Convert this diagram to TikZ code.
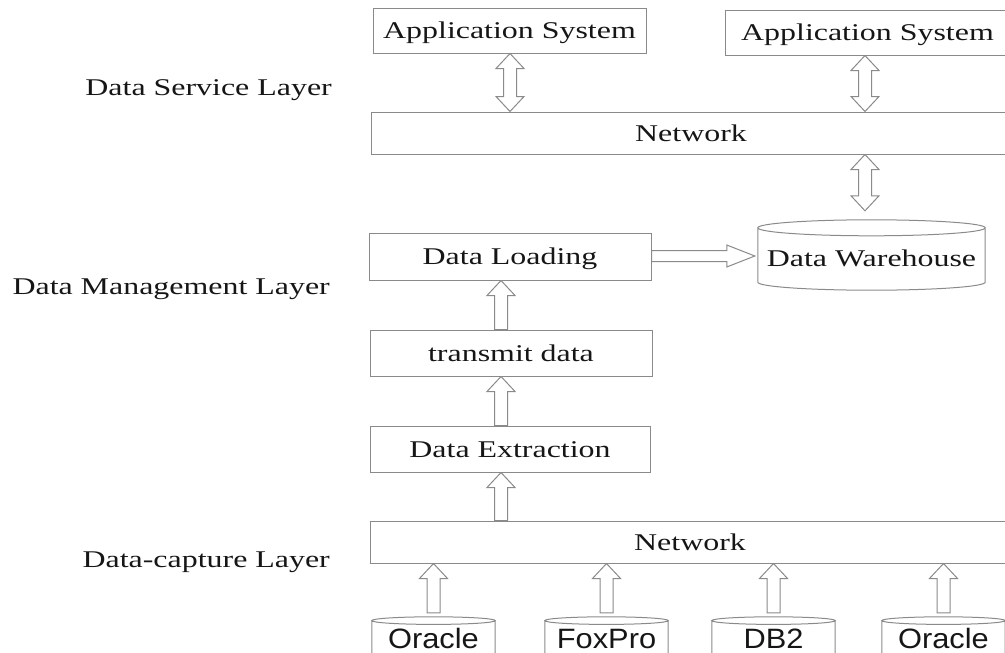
\documentclass[tikz,border=0pt]{standalone}
\usepackage{fontspec}
\setmainfont{Liberation Serif}[FakeStretch=1.33]
\newfontfamily\cylfont{Liberation Sans}[FakeStretch=1.1]
\usetikzlibrary{calc}
\definecolor{lin}{HTML}{8A8A8A}
\definecolor{txt}{HTML}{161616}
\tikzset{
  box/.style={draw=lin, line width=1pt, inner sep=0pt, text=txt,
    text height=16.5pt, text depth=0pt,
    font=\fontsize{24}{28}\selectfont},
  cylnode/.style={inner sep=0pt, text=txt, text height=20pt, text depth=2.5pt,
    font=\cylfont\fontsize{28}{32}\selectfont},
  layer/.style={anchor=base east, inner sep=0pt, text=txt,
    font=\fontsize{24}{28}\selectfont},
  line/.style={draw=lin, line width=1pt},
  arr/.style={draw=lin, line width=1pt, fill=white, line join=miter},
}
% vertical up arrow: #1 gives x, #2 tail (below), #3 tip (above)
\newcommand\ArrUp[3]{\draw[arr] let \p1=(#1),\p2=(#2),\p3=(#3) in
  (\x1-6.5pt,\y2) -- (\x1-6.5pt,\y3-15pt) -- (\x1-14pt,\y3-15pt) -- (\x1,\y3)
  -- (\x1+14pt,\y3-15pt) -- (\x1+6.5pt,\y3-15pt) -- (\x1+6.5pt,\y2) -- cycle;}
% vertical double arrow: #1 gives x, #2 lower end, #3 upper end
\newcommand\ArrDbl[3]{\draw[arr] let \p1=(#1),\p2=(#2),\p3=(#3) in
  (\x1,\y2) -- (\x1-14pt,\y2+15pt) -- (\x1-6.5pt,\y2+15pt) -- (\x1-6.5pt,\y3-15pt)
  -- (\x1-14pt,\y3-15pt) -- (\x1,\y3) -- (\x1+14pt,\y3-15pt) -- (\x1+6.5pt,\y3-15pt)
  -- (\x1+6.5pt,\y2+15pt) -- (\x1+14pt,\y2+15pt) -- cycle;}
% horizontal right arrow: #1 gives y, #2 tail, #3 tip
\newcommand\ArrRight[3]{\draw[arr] let \p1=(#1),\p2=(#2),\p3=(#3) in
  (\x2,\y1+5.5pt) -- (\x3-28pt,\y1+5.5pt) -- (\x3-28pt,\y1+11pt) -- (\x3,\y1)
  -- (\x3-28pt,\y1-11pt) -- (\x3-28pt,\y1-5.5pt) -- (\x2,\y1-5.5pt) -- cycle;}
% cylinder around a node: #1 node, #2 ellipse y radius (pt)
\newcommand\DrawCyl[2]{\draw[line] let \p1=(#1.north west),\p2=(#1.south east),
  \p3=(#1.north), \n1={(\x2-\x1)/2} in
  (\x1,\y1-#2pt) -- (\x1,\y2+#2pt) arc[start angle=180,end angle=360,x radius=\n1,y radius=#2pt]
  -- (\x2,\y1-#2pt)
  (\x3,\y1-#2pt) ellipse [x radius=\n1, y radius=#2pt];}
\begin{document}
\begin{tikzpicture}[x=1pt,y=-1pt]
\useasboundingbox (0,0) rectangle (1005,653);
\clip (0,0) rectangle (1005,653);

% layer labels
\node[layer] (l1) at (332,95) {Data Service Layer};
\node[layer] (l2) at (330,294) {Data Management Layer};
\node[layer] (l3) at (330,567) {Data-capture Layer};

% boxes
\node[box, minimum width=273, minimum height=45] (app1) at (509.5,30.5) {Application System};
\node[box, minimum width=285, minimum height=45] (app2) at (867.5,32.5) {Application System};
\node[box, minimum width=640, minimum height=42] (net1) at (691,133) {Network};
\node[box, minimum width=282, minimum height=47] (dl) at (510,256.5) {Data Loading};
\node[box, minimum width=282, minimum height=46] (td) at (511,353) {transmit data};
\node[box, minimum width=280, minimum height=46] (de) at (510,449) {Data Extraction};
\node[box, minimum width=640, minimum height=42] (net2) at (690,542) {Network};

% data warehouse
\node[inner sep=0pt, minimum width=227, minimum height=70,
  label={[box, draw=none, yshift=-3pt]center:Data Warehouse}] (dw) at (871.5,255) {};
\DrawCyl{dw}{8}

% source databases
\node[cylnode, minimum width=123, minimum height=46] (o1) at (433.5,640) {Oracle};
\node[cylnode, minimum width=123, minimum height=46] (fp) at (606.5,640) {FoxPro};
\node[cylnode, minimum width=123, minimum height=46] (db) at (773.5,640) {DB2};
\node[cylnode, minimum width=123, minimum height=46] (o2) at (943.5,640) {Oracle};
\DrawCyl{o1}{3.8}
\DrawCyl{fp}{3.8}
\DrawCyl{db}{3.8}
\DrawCyl{o2}{3.8}

% arrow reference coordinates
\coordinate (xa) at (510,0);
\coordinate (xb) at (865,0);
\coordinate (xc) at (501,0);
\coordinate (yr) at (0,256);
\coordinate (dwtop) at ($(dw.north)+(-6.5,-9)$);
\coordinate (dwleft) at ($(dw.west)+(-3,0)$);

% connectors
\ArrDbl{xa}{net1.north}{app1.south}
\ArrDbl{xb}{net1.north}{app2.south}
\ArrDbl{xb}{dwtop}{net1.south}
\ArrRight{yr}{dl.east}{dwleft}
\ArrUp{xc}{td.north}{dl.south}
\ArrUp{xc}{de.north}{td.south}
\ArrUp{xc}{net2.north}{de.south}
\ArrUp{o1}{$(o1.north)+(0,-4)$}{net2.south}
\ArrUp{fp}{$(fp.north)+(0,-4)$}{net2.south}
\ArrUp{db}{$(db.north)+(0,-4)$}{net2.south}
\ArrUp{o2}{$(o2.north)+(0,-4)$}{net2.south}
\end{tikzpicture}
\end{document}
